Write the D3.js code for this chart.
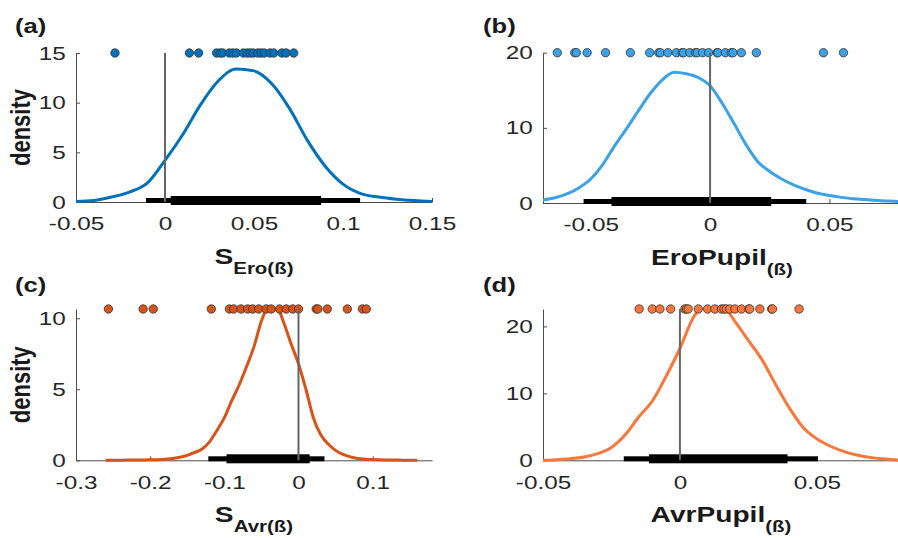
<!DOCTYPE html>
<html>
<head>
<meta charset="utf-8">
<script src="https://cdn.jsdelivr.net/npm/d3@7"></script>
<style>
body { margin: 0; background: #fff; }
text { font-family: "Liberation Sans", Arial, Helvetica, sans-serif; }
</style>
</head>
<body>
<div id="chart"></div>
<script>
// ---- data ----

// (a) S_Ero
var densXA = [-0.05, -0.04, -0.03, -0.02, -0.01, 0, 0.01, 0.02, 0.03, 0.04, 0.05, 0.06, 0.07, 0.08, 0.09, 0.10, 0.11, 0.12, 0.13, 0.14, 0.15];
var densYA = [0.05, 0.15, 0.5, 1.0, 1.9, 4.2, 6.8, 9.8, 12.2, 13.4, 13.2, 11.9, 9.4, 6.2, 3.6, 1.8, 0.85, 0.5, 0.28, 0.14, 0.05];
var dotsA = [-0.0281, 0.0137, 0.0189, 0.0290, 0.0310, 0.0324, 0.0361, 0.0380, 0.0401, 0.0440, 0.0462, 0.0479, 0.0496, 0.0521, 0.0540, 0.0558, 0.0590, 0.0611, 0.0657, 0.0680, 0.0723];
var ciOuterA = [-0.0107, 0.1096];
var ciInnerA = [0.0032, 0.0877];

// (b) EroPupil
var densXB = [-0.07, -0.065, -0.06, -0.055, -0.05, -0.045, -0.04, -0.035, -0.03, -0.025, -0.02, -0.015, -0.01, -0.005, 0, 0.005, 0.01, 0.015, 0.02, 0.025, 0.03, 0.035, 0.04, 0.045, 0.05, 0.055, 0.06, 0.065, 0.07, 0.075, 0.08];
var densYB = [0.4, 0.7, 1.2, 2.0, 3.2, 5.1, 7.6, 9.9, 12.3, 14.6, 16.4, 17.4, 17.2, 16.7, 15.6, 13.3, 10.6, 7.8, 5.5, 4.2, 3.2, 2.4, 1.8, 1.3, 1.0, 0.75, 0.58, 0.45, 0.33, 0.25, 0.18];
var dotsB = [-0.0640, -0.0567, -0.0560, -0.0515, -0.0438, -0.0334, -0.0253, -0.0215, -0.0208, -0.0177, -0.0141, -0.0117, -0.0111, -0.0085, -0.0061, -0.0054, -0.0031, -0.0006, 0.0029, 0.0033, 0.0064, 0.0089, 0.0096, 0.0131, 0.0194, 0.0475, 0.0559];
var ciOuterB = [-0.053, 0.0403];
var ciInnerB = [-0.0413, 0.0256];

// (c) S_Avr
var densXC = [-0.26, -0.24, -0.22, -0.20, -0.18, -0.16, -0.15, -0.14, -0.13, -0.12, -0.11, -0.10, -0.09, -0.08, -0.07, -0.06, -0.05, -0.04, -0.03, -0.02, -0.01, 0, 0.01, 0.02, 0.03, 0.04, 0.05, 0.06, 0.07, 0.08, 0.10, 0.12, 0.14, 0.16];
var densYC = [0.0, 0.01, 0.02, 0.04, 0.08, 0.22, 0.35, 0.55, 0.8, 1.3, 2.1, 3.0, 4.2, 5.3, 6.6, 8.0, 9.8, 10.85, 10.85, 9.7, 8.2, 6.8, 5.0, 3.0, 1.8, 1.15, 0.7, 0.42, 0.24, 0.13, 0.05, 0.02, 0.01, 0.0];
var dotsC = [-0.2563, -0.2095, -0.1959, -0.1176, -0.0932, -0.0874, -0.0775, -0.0685, -0.0617, -0.0536, -0.0437, -0.0369, -0.0257, -0.0166, -0.0077, 0.0000, 0.0239, 0.0261, 0.0388, 0.0658, 0.0861, 0.0914];
var ciOuterC = [-0.1216, 0.035];
var ciInnerC = [-0.097, 0.015];

// (d) AvrPupil
var densXD = [-0.05, -0.045, -0.04, -0.035, -0.03, -0.025, -0.02, -0.015, -0.01, -0.005, 0, 0.005, 0.01, 0.015, 0.02, 0.025, 0.03, 0.035, 0.04, 0.045, 0.05, 0.055, 0.06, 0.065, 0.07, 0.075, 0.08];
var densYD = [0.02, 0.1, 0.25, 0.5, 1.0, 1.9, 3.8, 6.5, 8.9, 12.6, 16.7, 21.4, 23.4, 23.3, 20.8, 17.9, 15.0, 11.3, 7.8, 4.9, 3.2, 2.1, 1.3, 0.75, 0.4, 0.18, 0.05];
var dotsD = [-0.0149, -0.0101, -0.0073, -0.0034, 0.0018, 0.0024, 0.0030, 0.0067, 0.0101, 0.0128, 0.0152, 0.0161, 0.0170, 0.0182, 0.0201, 0.0225, 0.0252, 0.0255, 0.0292, 0.0335, 0.0338, 0.0435];
var ciOuterD = [-0.0205, 0.0504];
var ciInnerD = [-0.0113, 0.0393];

// axis limits and ticks
var xLimA = [-0.05, 0.15], yLimA = [0, 15], xTicksA = [-0.05, 0, 0.05, 0.1, 0.15], yTicksA = [0, 5, 10, 15];
var xLimB = [-0.07, 0.08], yLimB = [0, 20], xTicksB = [-0.05, 0, 0.05], yTicksB = [0, 10, 20];
var xLimC = [-0.3, 0.18], yLimC = [0, 10.65], xTicksC = [-0.3, -0.2, -0.1, 0, 0.1], yTicksC = [0, 5, 10];
var xLimD = [-0.05, 0.08], yLimD = [0, 22.6], xTicksD = [-0.05, 0, 0.05], yTicksD = [0, 10, 20];

var panelNames = ["(a)", "(b)", "(c)", "(d)"];
var xLabelMain = ["S", "EroPupil", "S", "AvrPupil"];
var xLabelSub = ["Ero(ß)", "(ß)", "Avr(ß)", "(ß)"];

// ---- layout / style ----
var W = 898, H = 538;
var SX = 1.28; // the reference text is stretched sideways
var colors = ["#0072BD", "#3BA1E8", "#D95319", "#FC7639"];
var boxes = [
	{ left: 76, right: 432, top: 53, bottom: 202 },
	{ left: 543, right: 901, top: 52.7, bottom: 203 },
	{ left: 76, right: 432, top: 309, bottom: 460.3 },
	{ left: 543, right: 899, top: 309, bottom: 460.3 }
];

var panels = [
	{ dx: densXA, dy: densYA, dots: dotsA, outer: ciOuterA, inner: ciInnerA, xLim: xLimA, yLim: yLimA, xt: xTicksA, yt: yTicksA, ylab: true },
	{ dx: densXB, dy: densYB, dots: dotsB, outer: ciOuterB, inner: ciInnerB, xLim: xLimB, yLim: yLimB, xt: xTicksB, yt: yTicksB, ylab: false },
	{ dx: densXC, dy: densYC, dots: dotsC, outer: ciOuterC, inner: ciInnerC, xLim: xLimC, yLim: yLimC, xt: xTicksC, yt: yTicksC, ylab: true },
	{ dx: densXD, dy: densYD, dots: dotsD, outer: ciOuterD, inner: ciInnerD, xLim: xLimD, yLim: yLimD, xt: xTicksD, yt: yTicksD, ylab: false }
];

var svg = d3.select("#chart")
	.append("svg")
	.attr("width", W)
	.attr("height", H);

svg.append("rect").attr("width", W).attr("height", H).attr("fill", "#fff");

function styleAxis(g) {
	g.select(".domain").attr("stroke", "#4d4d4d").attr("stroke-width", 1);
	g.selectAll(".tick line").attr("stroke", "#4d4d4d");
	g.selectAll(".tick text")
		.attr("fill", "#262626")
		.attr("font-size", 19)
		.attr("transform", "scale(" + SX + ",1)");
}

panels.forEach(function (p, i) {
	var b = boxes[i];
	var col = colors[i];
	var g = svg.append("g");

	var x = d3.scaleLinear().domain(p.xLim).range([b.left, b.right]);
	var y = d3.scaleLinear().domain(p.yLim).range([b.bottom, b.top]);

	// axes (box off, ticks pointing in)
	var yAxis = d3.axisLeft(y)
		.tickValues(p.yt)
		.tickSizeInner(-4)
		.tickSizeOuter(0)
		.tickPadding(8)
		.tickFormat(d3.format("d"));
	g.append("g")
		.attr("transform", "translate(" + b.left + ",0)")
		.call(yAxis)
		.call(styleAxis);

	var xAxis = d3.axisBottom(x)
		.tickValues(p.xt)
		.tickSizeInner(-4)
		.tickSizeOuter(0)
		.tickPadding(15)
		.tickFormat(function (d) { return String(d); });
	g.append("g")
		.attr("transform", "translate(0," + b.bottom + ")")
		.call(xAxis)
		.call(styleAxis);

	// density curve, clipped at the top of the axes
	var clipId = "clip" + i;
	g.append("clipPath").attr("id", clipId)
		.append("rect")
		.attr("x", b.left - 10)
		.attr("y", b.top)
		.attr("width", b.right - b.left + 20)
		.attr("height", b.bottom - b.top + 10);

	var line = d3.line()
		.x(function (d) { return x(d[0]); })
		.y(function (d) { return y(d[1]); })
		.curve(d3.curveMonotoneX);

	g.append("path")
		.datum(d3.zip(p.dx, p.dy))
		.attr("clip-path", "url(#" + clipId + ")")
		.attr("fill", "none")
		.attr("stroke", col)
		.attr("stroke-width", 3)
		.attr("stroke-linejoin", "round")
		.attr("d", line);

	// interval bars
	var yc = y(0) - 1.5;
	g.append("rect")
		.attr("x", x(p.outer[0]))
		.attr("width", x(p.outer[1]) - x(p.outer[0]))
		.attr("y", yc - 2.5)
		.attr("height", 5)
		.attr("fill", "#000");
	g.append("rect")
		.attr("x", x(p.inner[0]))
		.attr("width", x(p.inner[1]) - x(p.inner[0]))
		.attr("y", yc - 4.5)
		.attr("height", 9)
		.attr("fill", "#000");

	// individual estimates along the top
	g.selectAll(".dot")
		.data(p.dots)
		.enter().append("circle")
		.attr("class", "dot")
		.attr("cx", function (d) { return x(d); })
		.attr("cy", y(p.yLim[1]))
		.attr("r", 4.2)
		.attr("fill", col)
		.attr("stroke", "#333")
		.attr("stroke-width", 0.8);

	// zero line
	g.append("line")
		.attr("x1", x(0)).attr("x2", x(0))
		.attr("y1", y(0)).attr("y2", y(p.yLim[1]))
		.attr("stroke", "#666")
		.attr("stroke-width", 2);

	// panel letter
	var lx = i % 2 == 0 ? 15 : 483;
	var ly = i < 2 ? 33 : 292;
	g.append("text")
		.attr("transform", "translate(" + lx + "," + ly + ") scale(" + SX + ",1)")
		.attr("font-size", 20)
		.attr("font-weight", "bold")
		.attr("fill", "#1a1a1a")
		.text(panelNames[i]);

	// y label
	if (p.ylab) {
		g.append("text")
			.attr("transform", "translate(29.5," + ((b.top + b.bottom) / 2) + ") scale(" + SX + ",1) rotate(-90)")
			.attr("text-anchor", "middle")
			.attr("font-size", 22)
			.attr("font-weight", "bold")
			.attr("fill", "#1a1a1a")
			.text("density");
	}

	// x label with subscript
	var xl = g.append("text")
		.attr("transform", "translate(" + ((b.left + b.right) / 2) + "," + (b.bottom + 62) + ") scale(" + SX + ",1)")
		.attr("text-anchor", "middle")
		.attr("font-weight", "bold")
		.attr("fill", "#1a1a1a");
	xl.append("tspan").attr("font-size", 22).text(xLabelMain[i]);
	xl.append("tspan").attr("font-size", 16).attr("dy", 10).text(xLabelSub[i]);
});
</script>
</body>
</html>
